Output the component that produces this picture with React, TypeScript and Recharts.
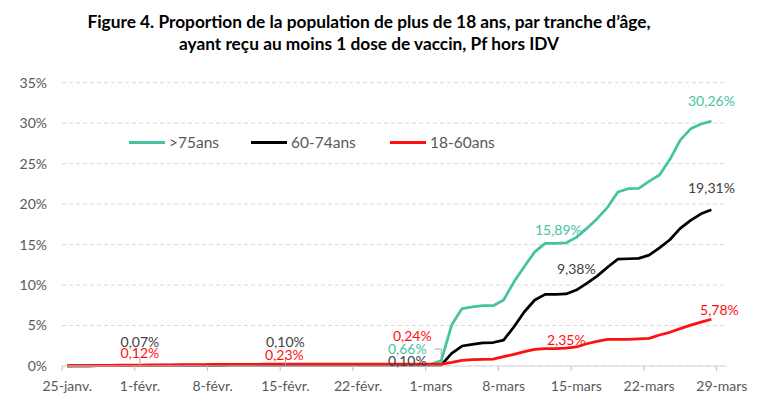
import React from 'react';
import { LineChart, Line, XAxis, YAxis, CartesianGrid } from 'recharts';

const tickLabels = ['25-janv.', '1-févr.', '8-févr.', '15-févr.', '22-févr.', '1-mars', '8-mars', '15-mars', '22-mars', '29-mars'];
const tickDays = [0, 7, 14, 21, 28, 35, 42, 49, 56, 63];
const yTicks = [0, 5, 10, 15, 20, 25, 30, 35];

const seriesNames = ['>75ans', '60-74ans', '18-60ans'];

const over75 = [
  0.01, 0.02, 0.03, 0.04, 0.05, 0.06, 0.07, 0.08, 0.09, 0.10, 0.10, 0.11, 0.11, 0.12, 0.12, 0.13, 0.13, 0.14,
  0.14, 0.15, 0.15, 0.16, 0.16, 0.16, 0.17, 0.17, 0.17, 0.18, 0.18, 0.18, 0.19, 0.19, 0.19, 0.20, 0.20, 0.21,
  0.66, 5.06, 7.1, 7.3, 7.45, 7.45, 8.15, 10.4, 12.3, 14.1, 15.15, 15.15, 15.2, 15.89, 17.0, 18.2, 19.6, 21.5,
  21.9, 21.95, 22.8, 23.6, 25.5, 27.9, 29.3, 29.9, 30.26,
];
const age6074 = [
  0.01, 0.02, 0.03, 0.04, 0.05, 0.06, 0.06, 0.07, 0.07, 0.08, 0.08, 0.08, 0.09, 0.09, 0.09, 0.09, 0.10, 0.10,
  0.10, 0.10, 0.10, 0.10, 0.10, 0.10, 0.10, 0.10, 0.10, 0.10, 0.10, 0.10, 0.10, 0.10, 0.10, 0.10, 0.10, 0.10,
  0.10, 1.56, 2.47, 2.68, 2.85, 2.9, 3.2, 4.85, 6.7, 8.15, 8.85, 8.85, 8.9, 9.38, 10.2, 11.1, 12.2, 13.2,
  13.25, 13.3, 13.7, 14.6, 15.6, 17.0, 18.0, 18.8, 19.31,
];
const age1860 = [
  0.03, 0.05, 0.06, 0.08, 0.09, 0.10, 0.11, 0.12, 0.13, 0.14, 0.15, 0.16, 0.17, 0.18, 0.19, 0.20, 0.20, 0.21,
  0.21, 0.22, 0.22, 0.23, 0.23, 0.23, 0.23, 0.23, 0.23, 0.23, 0.23, 0.23, 0.23, 0.23, 0.24, 0.24, 0.24, 0.24,
  0.24, 0.45, 0.7, 0.78, 0.82, 0.86, 1.15, 1.44, 1.77, 2.06, 2.14, 2.14, 2.2, 2.35, 2.75, 3.05, 3.28, 3.3,
  3.3, 3.35, 3.42, 3.83, 4.16, 4.62, 5.05, 5.42, 5.78,
];

const data = over75.map((v, i) => ({ day: i, over75: v, age6074: age6074[i], age1860: age1860[i] }));

const COLORS = { over75: '#45C3A2', age6074: '#000000', age1860: '#FF1010' };
const LABEL_COLORS = { over75: '#45C3A2', age6074: '#404040', age1860: '#FF1010' };

// label offsets (dx, dy) relative to the point, per series and day index
const LABEL_OFFSETS: Record<string, Record<number, [number, number]>> = {
  over75: { 36: [-34, -12], 49: [-18, -8], 62: [0, -21] },
  age6074: { 7: [0, -24], 21: [0, -23.5], 36: [-34, -4.5], 49: [0, -22], 62: [0, -22] },
  age1860: { 7: [0, -13], 21: [-1, -10], 36: [-29, -29], 49: [-10, -7], 62: [8, -10] },
};

const fmt = (v: number) => v.toFixed(2).replace('.', ',') + '%';
const FONT = 'Lato, "Open Sans", sans-serif';

const makeLabel = (key: string) => (props: any) => {
  const { x, y, index, value } = props;
  const off = LABEL_OFFSETS[key][index];
  if (!off || x == null || y == null) return null;
  const [dx, dy] = off;
  return (
    <g key={`${key}-${index}`}>
      {key === 'age6074' && (index === 7 || index === 21) && (
        <line x1={x} x2={x} y1={y - 8} y2={y} stroke="#A6A6A6" strokeWidth={1} />
      )}
      {key === 'over75' && index === 36 && (
        <path d={`M${x - 6.5},${y - 11.6} H${x} V${y - 2.6}`} stroke="#A6A6A6" strokeWidth={1} fill="none" />
      )}
      <text
        x={x + dx}
        y={y + dy}
        textAnchor="middle"
        dominantBaseline="central"
        fontSize={14}
        fontFamily={FONT}
        fill={(LABEL_COLORS as any)[key]}
      >
        {fmt(Number(value))}
      </text>
    </g>
  );
};

const XTick = (props: any) => {
  const { x, y, payload } = props;
  const half = 665 / 64 / 2;
  const idx = tickDays.indexOf(payload.value);
  return (
    <g>
      <line x1={x - half} x2={x - half} y1={y} y2={y + 5} stroke="#BFBFBF" strokeWidth={1} />
      <text x={x} y={y + 25} textAnchor="middle" fontSize={14} fontFamily={FONT} fill="#595959">
        {tickLabels[idx]}
      </text>
    </g>
  );
};

const LegendBox = () => {
  const items = [
    { key: 'over75', lineX: 129, textX: 169 },
    { key: 'age6074', lineX: 251, textX: 291 },
    { key: 'age1860', lineX: 390, textX: 430 },
  ];
  return (
    <div style={{ position: 'absolute', left: 0, top: 131, height: 22, width: 764 }}>
      {items.map((it, i) => (
        <React.Fragment key={it.key}>
          <div
            style={{
              position: 'absolute',
              left: it.lineX,
              top: 10,
              width: 36,
              height: 3,
              background: (COLORS as any)[it.key],
            }}
          />
          <div
            style={{
              position: 'absolute',
              left: it.textX,
              top: 0,
              lineHeight: '22px',
              fontSize: 15.5,
              fontFamily: FONT,
              color: '#595959',
              whiteSpace: 'nowrap',
            }}
          >
            {seriesNames[i]}
          </div>
        </React.Fragment>
      ))}
    </div>
  );
};

export default function App() {
  return (
    <div style={{ position: 'absolute', left: 0, top: 0, width: 764, height: 411, background: '#fff', fontFamily: FONT }}>
      <div
        style={{
          position: 'absolute',
          left: 0,
          top: 11,
          width: 738,
          textAlign: 'center',
          fontWeight: 700,
          fontSize: 17.3,
          lineHeight: '22px',
          color: '#000',
        }}
      >
        Figure 4. Proportion de la population de plus de 18 ans, par tranche d’âge,
        <br />
        ayant reçu au moins 1 dose de vaccin, Pf hors IDV
      </div>
      <div style={{ position: 'absolute', left: 0, top: 0 }}>
        <LineChart
          width={764}
          height={411}
          data={data}
          margin={{ top: 82.7, right: 37, bottom: 15, left: 0 }}
        >
          <CartesianGrid vertical={false} stroke="#D9D9D9" strokeDasharray="4 3" />
          <XAxis
            dataKey="day"
            type="number"
            domain={[-0.5, 63.5]}
            ticks={tickDays}
            interval={0}
            height={30}
            tickSize={0}
            tickMargin={0}
            axisLine={{ stroke: '#D9D9D9' }}
            tickLine={false}
            tick={<XTick />}
          />
          <YAxis
            domain={[0, 35]}
            ticks={yTicks}
            width={62}
            axisLine={false}
            tickLine={false}
            tickSize={0}
            tickMargin={15}
            tickFormatter={(v: number) => `${v}%`}
            tick={{ fontSize: 14, fontFamily: FONT, fill: '#595959' }}
          />
          <Line
            type="linear"
            dataKey="over75"
            name={seriesNames[0]}
            stroke={COLORS.over75}
            strokeWidth={2.75}
            strokeLinejoin="round"
            dot={false}
            isAnimationActive={false}
            label={makeLabel('over75')}
          />
          <Line
            type="linear"
            dataKey="age6074"
            name={seriesNames[1]}
            stroke={COLORS.age6074}
            strokeWidth={2.75}
            strokeLinejoin="round"
            dot={false}
            isAnimationActive={false}
            label={makeLabel('age6074')}
          />
          <Line
            type="linear"
            dataKey="age1860"
            name={seriesNames[2]}
            stroke={COLORS.age1860}
            strokeWidth={2.75}
            strokeLinejoin="round"
            dot={false}
            isAnimationActive={false}
            label={makeLabel('age1860')}
          />
        </LineChart>
      </div>
      <LegendBox />
    </div>
  );
}
